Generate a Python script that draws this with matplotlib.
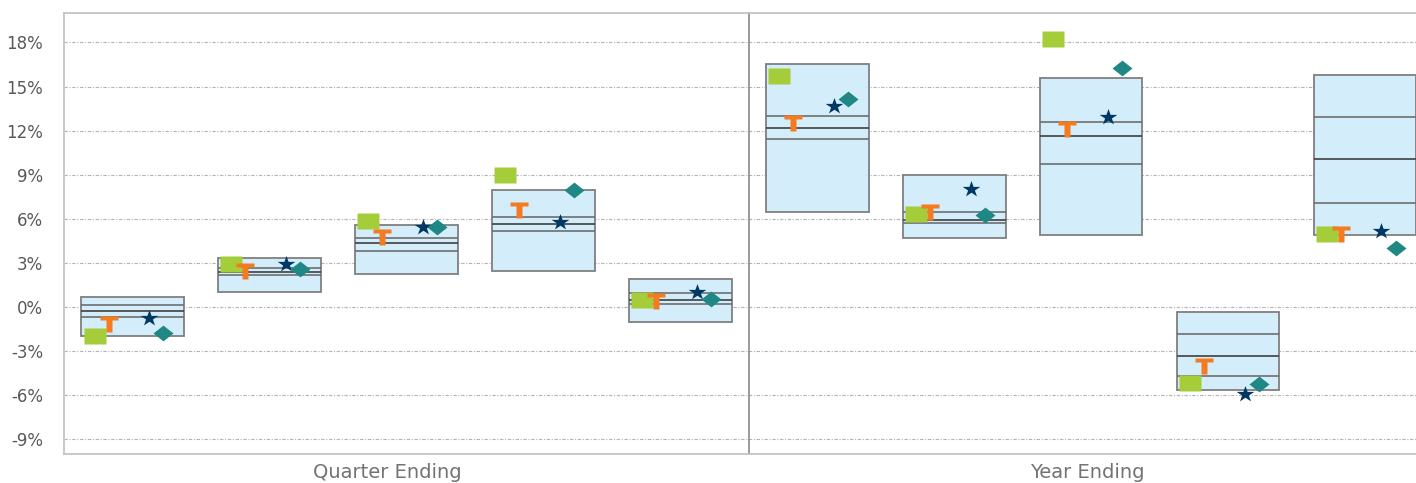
import matplotlib.pyplot as plt
import numpy as np
from matplotlib.patches import Rectangle

# box ranges and inner lines (percent) - 5 quarter ending, 5 year ending
box_top = [0.68, 3.31, 5.56, 7.94, 1.88, 16.51, 8.96, 15.60, -0.34, 15.81]
box_bot = [-1.99, 1.02, 2.22, 2.43, -1.02, 6.44, 4.72, 4.88, -5.67, 4.88]
line_hi = [0.16, 2.63, 4.69, 6.12, 0.98, 12.99, 6.46, 12.56, -1.81, 12.93]
line_med = [-0.27, 2.40, 4.35, 5.63, 0.46, 12.16, 5.95, 11.65, -3.35, 10.05]
line_lo = [-0.70, 2.18, 3.81, 5.17, 0.23, 11.46, 5.74, 9.70, -4.69, 7.07]

# marker series
square_vals = [-1.97, 2.91, 5.84, 8.96, 0.50, 15.74, 6.33, 18.26, -5.17, 4.99]
t_vals = [-1.19, 2.48, 4.73, 6.63, 0.41, 12.50, 6.49, 12.09, -4.01, 4.98]
star_vals = [-0.72, 2.90, 5.44, 5.78, 1.02, 13.65, 8.05, 12.93, -5.94, 5.15]
diamond_vals = [-1.76, 2.61, 5.44, 7.94, 0.57, 14.15, 6.24, 16.26, -5.21, 4.04]

yticks = [-9, -6, -3, 0, 3, 6, 9, 12, 15, 18]
group_labels = ["Quarter Ending", "Year Ending"]

# custom marker shapes (a bit wider than tall, like the reference)
sq_marker = [(-1, -0.75), (1, -0.75), (1, 0.75), (-1, 0.75)]
dia_marker = [(0, -0.79), (1, 0), (0, 0.79), (-1, 0)]
h = 0.88
t_marker = [(-1, h), (1, h), (1, h - 0.4), (0.32, h - 0.4), (0.32, -h),
            (-0.32, -h), (-0.32, h - 0.4), (-1, h - 0.4)]
ang = np.pi / 2 + np.arange(10) * np.pi / 5
rad = np.where(np.arange(10) % 2 == 0, 1.0, 0.382)
star_marker = list(zip(1.1 * rad * np.cos(ang), rad * np.sin(ang)))

fig = plt.figure(figsize=(14.16, 4.83), dpi=100)
ax = fig.add_axes([64 / 1416, 29 / 483, (1433.5 - 64) / 1416, 441 / 483])

x = np.arange(len(box_top))
w = 0.75
for i in x:
    ax.add_patch(Rectangle((i - w / 2, box_bot[i]), w, box_top[i] - box_bot[i],
                           facecolor="#d3edfb", edgecolor="#7f7f7f", lw=1.3, zorder=2))
ax.hlines(line_hi, x - w / 2, x + w / 2, color="#6e6e6e", lw=1.2, zorder=3)
ax.hlines(line_med, x - w / 2, x + w / 2, color="#404040", lw=1.2, zorder=3)
ax.hlines(line_lo, x - w / 2, x + w / 2, color="#6e6e6e", lw=1.2, zorder=3)

ax.plot(x - 0.277, square_vals, ls="none", marker=sq_marker, ms=15.2,
        color="#a4cd39", mec="none", zorder=4)
ax.plot(x - 0.175, t_vals, ls="none", marker=t_marker, ms=13,
        color="#f47b20", mec="none", zorder=4)
ax.plot(x + 0.12, star_vals, ls="none", marker=star_marker, ms=12.8,
        color="#003865", mec="none", zorder=4)
ax.plot(x + 0.226, diamond_vals, ls="none", marker=dia_marker, ms=14.4,
        color="#1f8784", mec="none", zorder=4)

# divider between quarter and year
ax.axvline(4.5, color="#808080", lw=1.1, zorder=1)

ax.set_xlim(-0.5, 9.5)
ax.set_ylim(-10, 20)
ax.set_yticks(yticks)
ax.set_yticklabels([f"{v}%" for v in yticks], fontsize=12, color="#595959")
ax.set_xticks([])
ax.tick_params(axis="y", length=0, pad=15)
ax.yaxis.grid(True, color="#b3b3b3", lw=0.8, linestyle=(0, (3, 1.5, 1, 1.5)))
ax.set_axisbelow(True)
for s in ["left", "top", "bottom"]:
    ax.spines[s].set_color("#bfbfbf")
    ax.spines[s].set_linewidth(1.2)
ax.spines["right"].set_visible(False)

fig.text(387 / 1416, 11 / 483, group_labels[0], fontsize=14, color="#737373",
         ha="center", va="center")
fig.text(1087 / 1416, 11 / 483, group_labels[1], fontsize=14, color="#737373",
         ha="center", va="center")

plt.savefig("out.png", dpi=100)
